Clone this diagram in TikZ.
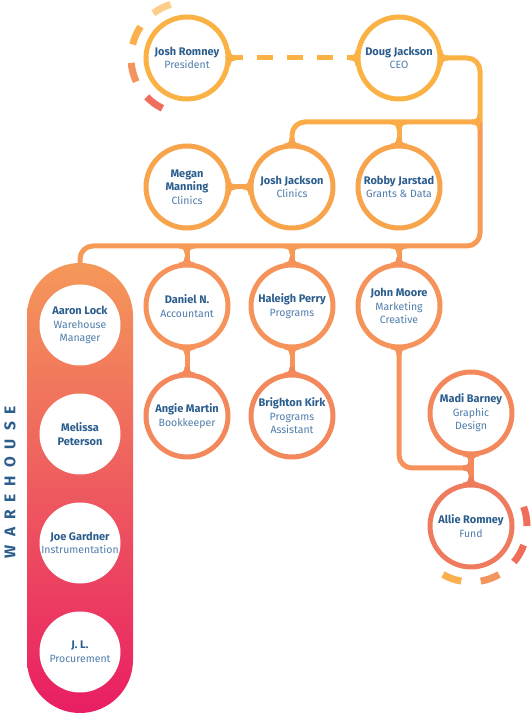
\documentclass[tikz,border=0pt]{standalone}
\usepackage{fontspec}
\setmainfont{Fira Sans}
\usepackage{xcolor}
\usetikzlibrary{positioning}

\definecolor{lineA}{HTML}{FBB245}
\definecolor{lineB}{HTML}{FAAC48}
\definecolor{lineC}{HTML}{F8A44C}
\definecolor{lineD}{HTML}{F69B55}
\definecolor{lineE}{HTML}{F5935A}
\definecolor{lineF}{HTML}{F2885B}
\definecolor{lineG}{HTML}{EF7B5E}
\definecolor{arcA}{HTML}{FDCD8A}
\definecolor{arcB}{HTML}{FAB04C}
\definecolor{arcC}{HTML}{F5955E}
\definecolor{arcD}{HTML}{EE6E5B}
\definecolor{pillTop}{HTML}{F4985A}
\definecolor{pillMid}{HTML}{EE6663}
\definecolor{pillBot}{HTML}{E91E63}
\definecolor{namecol}{HTML}{2B5D8D}
\definecolor{rolecol}{HTML}{4F7DAB}

\newcommand{\nm}[1]{{\fontsize{11}{13.5}\bfseries\color{namecol}#1}}

\begin{document}
\begin{tikzpicture}[x=1pt, y=1pt, node distance=20pt]
    % Styles
    \tikzstyle{person} = [circle, draw, line width=5pt, minimum size=82pt, inner sep=0pt, fill=white, align=center, text=rolecol, font=\fontsize{10.5}{13.5}\selectfont]
    \tikzstyle{crew} = [circle, fill=white, minimum size=81pt, inner sep=0pt, outer sep=0pt, align=center, text=rolecol, font=\fontsize{10.5}{13.5}\selectfont]
    \tikzstyle{pill} = [rectangle, rounded corners=53pt, minimum width=106pt, minimum height=450pt, inner sep=0pt, top color=pillTop, middle color=pillMid, bottom color=pillBot]
    \tikzstyle{line} = [draw, line width=5pt, rounded corners=13pt]
    \tikzstyle{ring} = [line width=7pt]
    \tikzset{neck/.pic={\fill (-8,2) -- (-8,0) .. controls (-4,0) and (-2.5,-1.5) .. (-2.5,-5.5) -- (2.5,-5.5) .. controls (2.5,-1.5) and (4,0) .. (8,0) -- (8,2) -- cycle;}}

    \useasboundingbox (0,0) rectangle (532,714);

    % Warehouse column
    \node [pill] (whouse) at (80,226) {};
    \node [crew] (al) at (80,389) {\nm{Aaron Lock}\\Warehouse\\Manager};
    \node [crew, below=28pt of al] (mp) {\nm{Melissa}\\\nm{Peterson}};
    \node [crew, below=28pt of mp] (jg) {\nm{Joe Gardner}\\Instrumentation};
    \node [crew, below=28pt of jg] (jl) {\nm{J. L.}\\Procurement};
    \node [rotate=90, text=namecol, font=\fontsize{15.5}{16}\bfseries\selectfont] (wlabel) at (10,232)
        {W\kern8pt A\kern8pt R\kern8pt E\kern8pt H\kern8pt O\kern8pt U\kern8pt S\kern8pt E};

    % Nodes
    \node [person, draw=lineA] (jr) at (187,656) {\nm{Josh Romney}\\President};
    \node [person, draw=lineA, right=125pt of jr] (dj) {\nm{Doug Jackson}\\CEO};
    \node [person, draw=lineC, below=42pt of jr] (mm) {\nm{Megan}\\\nm{Manning}\\Clinics};
    \node [person, draw=lineC, right=18pt of mm] (jj) {\nm{Josh Jackson}\\Clinics};
    \node [person, draw=lineC, right=20pt of jj] (rj) {\nm{Robby Jarstad}\\Grants \& Data};
    \node [person, draw=lineE, below=32pt of mm] (dn) {\nm{Daniel N.}\\Accountant};
    \node [person, draw=lineE, below=32pt of jj] (hp) {\nm{Haleigh Perry}\\Programs};
    \node [person, draw=lineE, below=32pt of rj] (jm) {\nm{John Moore}\\Marketing\\Creative};
    \node [person, draw=lineF, below=23pt of dn] (am) {\nm{Angie Martin}\\Bookkeeper};
    \node [person, draw=lineF, below=23pt of hp] (bk) {\nm{Brighton Kirk}\\Programs\\Assistant};
    \node [person, draw=lineF] (mb) at (471,301) {\nm{Madi Barney}\\Graphic\\Design};
    \node [person, draw=lineG, below=26pt of mb] (ar) {\nm{Allie Romney}\\Fund};

    % Bus points
    \coordinate (busA) at (480,592);
    \coordinate (busB) at (480,468);
    \coordinate (wh) at (80,468);
    \coordinate (mbjoin) at (471,246);
    \coordinate (tRJ) at (rj.north |- busA);
    \coordinate (tDN) at (dn.north |- busB);
    \coordinate (tHP) at (hp.north |- busB);
    \coordinate (tJM) at (jm.north |- busB);

    % Rings
    \foreach \a/\c in {117/arcA, 156/arcB, 195/arcC, 234/arcD}
        \draw [ring, \c] (jr.center) ++(\a-10:56pt) arc[start angle=\a-10, end angle=\a+10, radius=56pt];
    \foreach \a/\c in {10/arcD, -30/arcD, -70/arcC, -110/arcB}
        \draw [ring, \c] (ar.center) ++(\a-10:56pt) arc[start angle=\a-10, end angle=\a+10, radius=56pt];

    % Paths
    \path [line, lineA, dash pattern=on 16pt off 14pt, dash phase=4pt] (jr.east) -- (dj.west);
    \path [line, lineA] (dj.east) -| (busA);
    \path [line, lineD] (busA) -- (busB) -- (wh) -- (whouse.north);
    \path [line, lineB] (busA) -| (jj.north);
    \path [line, lineB] (tRJ) -- (rj.north);
    \path [line, lineC] (mm.east) -- (jj.west);
    \path [line, lineD] (tDN) -- (dn.north);
    \path [line, lineD] (tHP) -- (hp.north);
    \path [line, lineD] (tJM) -- (jm.north);
    \path [line, lineE] (dn.south) -- (am.north);
    \path [line, lineE] (hp.south) -- (bk.north);
    \path [line, lineE] (jm.south) |- (mbjoin);
    \path [line, lineF] (mb.south) -- (ar.north);

    % Necks
    \pic [lineA, rotate=90] at (jr.east) {neck};
    \pic [lineA, rotate=-90] at (dj.west) {neck};
    \pic [lineA, rotate=90] at (dj.east) {neck};
    \pic [lineB, rotate=-90] at ([xshift=-2.5pt]busA) {neck};
    \pic [lineB] at ([yshift=-2.5pt]tRJ) {neck};
    \pic [lineC, rotate=180] at (jj.north) {neck};
    \pic [lineC, rotate=180] at (rj.north) {neck};
    \pic [lineC, rotate=90] at (mm.east) {neck};
    \pic [lineC, rotate=-90] at (jj.west) {neck};
    \foreach \t in {tDN, tHP, tJM}
        \pic [lineD] at ([yshift=-2.5pt]\t) {neck};
    \foreach \n in {dn, hp, jm}
        \pic [lineE, rotate=180] at (\n.north) {neck};
    \foreach \n in {dn, hp, jm}
        \pic [lineE] at (\n.south) {neck};
    \pic [lineF, rotate=180] at (am.north) {neck};
    \pic [lineF, rotate=180] at (bk.north) {neck};
    \pic [lineF] at (mb.south) {neck};
    \pic [lineG, rotate=180] at (ar.north) {neck};
    \pic [lineF, rotate=-90] at ([xshift=-2.5pt]mbjoin) {neck};
\end{tikzpicture}
\end{document}
